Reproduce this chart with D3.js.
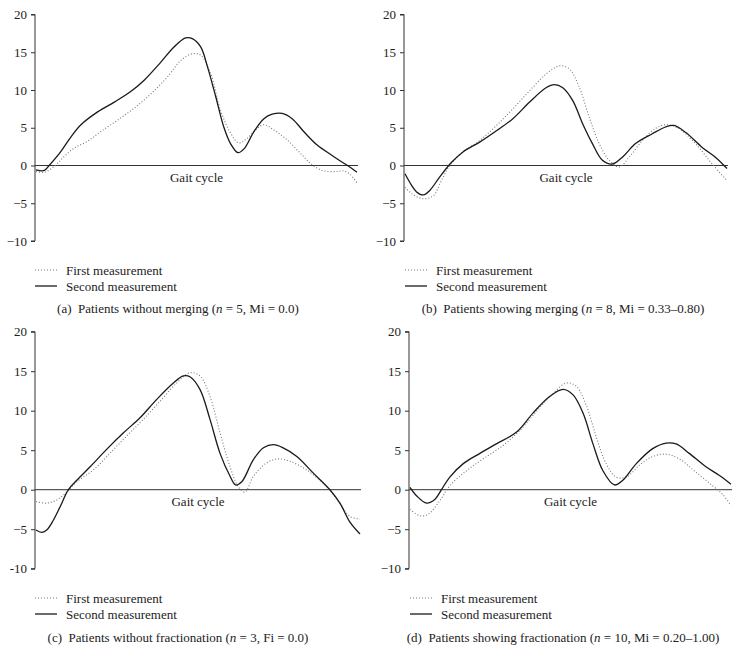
<!DOCTYPE html>
<html><head><meta charset="utf-8">
<script src="https://cdn.jsdelivr.net/npm/d3@7"></script>
<style>body{margin:0;background:#fff}text{font-family:"Liberation Serif","DejaVu Serif",serif;fill:#222}</style>
</head><body>
<svg id="c" width="741" height="663"></svg>
<script>
// ---- data: [gait cycle %, value] ----
const yTicks = [20, 15, 10, 5, 0, -5, -10];
const legendLabels = ["First measurement", "Second measurement"];
const axisLabel = "Gait cycle";

const aFirst = [[0,-0.8],[2.6,-0.9],[5.7,-0.1],[8.8,1.2],[11.9,2.3],[16,3.2],[20.2,4.5],[25.4,6.0],[30.6,7.6],[35.8,9.5],[40.9,11.7],[45.1,13.9],[48.7,14.8],[51.3,14.6],[54.4,12.2],[57.5,7.3],[60.6,4.3],[63.2,3.0],[65.8,3.6],[68.9,4.9],[71,5.4],[74.1,4.7],[78.2,3.4],[82.4,1.6],[86,0.1],[89.6,-0.7],[93.8,-0.8],[95.9,-0.7],[97.9,-1.2],[100,-2.3]];
const aSecond = [[0,-0.57],[2.6,-0.66],[4.1,0],[7.3,1.6],[10.9,3.8],[14,5.4],[19.2,7.1],[24.4,8.4],[29.5,9.8],[33.7,11.3],[38.9,13.7],[43,15.7],[46.6,16.9],[48.7,16.8],[51.3,15.7],[53.4,13.1],[56,9.1],[58.5,5.1],[60.6,2.9],[62.9,1.7],[64.8,2.2],[67.9,4.5],[71,6.2],[73.6,6.8],[76.7,6.9],[79.8,6.2],[83.4,4.5],[87.6,2.7],[92.7,1.2],[95.9,0.3],[97.4,-0.1],[100,-0.9]];

const bFirst = [[0,-2.9],[2.3,-3.8],[5.7,-4.4],[8.8,-4.0],[11.3,-2.0],[13.9,0],[18,1.8],[23.2,3.3],[28.4,5.3],[33.5,7.5],[38.7,9.9],[43.8,12.1],[48,13.2],[51,12.8],[54.1,10.4],[57.2,6.4],[60.3,2.9],[63.4,0.7],[66.5,-0.2],[69.6,1.1],[73.7,3.3],[77.8,4.9],[80.9,5.4],[85,4.9],[90.2,2.9],[95.4,0.2],[100,-2.0]];
const bSecond = [[0,-1.1],[2,-2.6],[3.6,-3.5],[5.7,-3.9],[7.7,-3.3],[10.8,-1.5],[14.4,0.4],[18,1.8],[23.2,3.1],[28.4,4.6],[33.5,6.2],[38.7,8.4],[43.8,10.3],[46.4,10.7],[49,10.3],[52.1,8.6],[55.2,5.5],[58.2,2.9],[61.3,0.7],[64.4,0.2],[67.5,1.1],[71.6,2.9],[76.8,4.2],[80.9,5.1],[83.5,5.3],[87.1,4.4],[92.3,2.4],[96.4,1.1],[100,-0.4]];

const cFirst = [[0,-1.5],[3.3,-1.7],[6.4,-1.3],[9.5,-0.3],[12.6,1.0],[17.7,2.5],[22.8,4.6],[28,6.8],[33.1,8.9],[38.3,11.2],[43.4,13.5],[47.5,14.8],[50.6,14.4],[53.7,11.8],[56.8,7.2],[59.9,2.9],[62.4,0.4],[64.5,-0.3],[67.1,1.7],[71.2,3.4],[74.8,3.9],[78.4,3.6],[83.5,2.5],[89.7,0.4],[93.8,-1.7],[96.9,-3.4],[100,-3.7]];
const cSecond = [[0,-5.1],[1.7,-5.4],[3.3,-5.1],[5.3,-3.9],[7.4,-2.2],[10,0],[12.6,1.2],[16.7,2.9],[21.8,5.1],[27,7.2],[32.1,9.1],[37.2,11.4],[42.4,13.5],[45.5,14.4],[47.5,14.3],[50.6,12.7],[53.7,8.9],[56.8,4.6],[59.9,1.7],[61.6,0.6],[63.5,1.0],[67.1,3.8],[70.2,5.3],[73.3,5.7],[76.3,5.3],[80.5,4.2],[85.6,2.1],[90.7,0],[93.8,-1.7],[96.9,-4.1],[100,-5.6]];

const dFirst = [[0,-2.5],[3.1,-3.3],[5.7,-3.1],[9.3,-1.4],[12.4,0.5],[17.6,2.4],[22.8,3.9],[29,5.6],[34.2,7.5],[39.4,9.9],[44.6,12.2],[48.7,13.5],[51.8,13.1],[54.9,10.7],[58,6.7],[61.1,3.3],[64.2,1.6],[67.4,1.6],[71.5,3.1],[75.6,4.2],[79.8,4.5],[83.9,3.9],[89.1,2.2],[94.3,0.5],[97.4,-0.6],[100,-2.0]];
const dSecond = [[0,0.3],[2.1,-0.8],[5.2,-1.7],[7.8,-1.2],[9.8,0],[12.4,1.6],[16.6,3.3],[21.8,4.6],[26.9,5.8],[33.2,7.3],[38.3,9.7],[43.5,11.8],[47.7,12.7],[50.8,12.0],[53.9,9.7],[57,5.8],[60.1,2.4],[63.7,0.6],[66.3,1.2],[70.5,3.3],[75.6,5.2],[79.8,5.9],[82.9,5.8],[87,4.6],[92.2,2.9],[96.4,1.8],[100,0.7]];

const panels = [
  {first: aFirst, second: aSecond, letter: "(a)", text: "Patients without merging (", n: "5", rest: ", Mi = 0.0)",
   ax: 35, ex: 358, yt: 14.5, yb: 241, legY: 270, capX: 178, capY: 313, legX: 35},
  {first: bFirst, second: bSecond, letter: "(b)", text: "Patients showing merging (", n: "8", rest: ", Mi = 0.33\u20130.80)",
   ax: 404, ex: 728, yt: 14.5, yb: 241, legY: 270, capX: 563, capY: 313, legX: 405},
  {first: cFirst, second: cSecond, letter: "(c)", text: "Patients without fractionation (", n: "3", rest: ", Fi = 0.0)",
   ax: 35, ex: 361, yt: 331.7, yb: 568.7, legY: 598, capX: 178, capY: 642, legX: 35},
  {first: dFirst, second: dSecond, letter: "(d)", text: "Patients showing fractionation (", n: "10", rest: ", Mi = 0.20\u20131.00)",
   ax: 409, ex: 732, yt: 331.7, yb: 568.7, legY: 598, capX: 563, capY: 642, legX: 410}
];

const svg = d3.select("#c");
panels.forEach((p, i) => {
  const g = svg.append("g");
  const x = d3.scaleLinear().domain([0, 100]).range([p.ax + 1, p.ex - 1]);
  const y = d3.scaleLinear().domain([-10, 20]).range([p.yb, p.yt]);
  const yAxis = d3.axisLeft(y).tickValues(yTicks).tickSize(4).tickPadding(4)
    .tickFormat(d => (i === 2 && d === -10) ? "-10" : (d < 0 ? "\u2212" + Math.abs(d) : String(d)));
  const ag = g.append("g").attr("transform", `translate(${p.ax},0)`).call(yAxis);
  ag.select(".domain").attr("stroke", "#333").attr("d", `M-4,${p.yt}H0V${p.yb}H-4`);
  ag.selectAll(".tick line").attr("stroke", "#333");
  ag.selectAll(".tick text").style("font-family", '"Liberation Serif",serif').style("font-size", "13px").attr("fill", "#222");
  // zero line
  g.append("line").attr("x1", p.ax).attr("x2", p.ex).attr("y1", y(0)).attr("y2", y(0))
    .attr("stroke", "#333").attr("stroke-width", 1);
  g.append("text").attr("x", (p.ax + p.ex) / 2).attr("y", y(0) + 16).attr("text-anchor", "middle")
    .style("font-size", "13px").text(axisLabel);
  const line = d3.line().x(d => x(d[0])).y(d => y(d[1])).curve(d3.curveCatmullRom.alpha(0.5));
  g.append("path").datum(p.first).attr("d", line).attr("fill", "none")
    .attr("stroke", "#777").attr("stroke-width", 1.1).attr("stroke-dasharray", "1,2");
  g.append("path").datum(p.second).attr("d", line).attr("fill", "none")
    .attr("stroke", "#1a1a1a").attr("stroke-width", 1.3);
  // legend
  const lg = g.append("g");
  lg.append("line").attr("x1", p.legX).attr("x2", p.legX + 22).attr("y1", p.legY).attr("y2", p.legY)
    .attr("stroke", "#777").attr("stroke-width", 1.1).attr("stroke-dasharray", "1,2");
  lg.append("line").attr("x1", p.legX).attr("x2", p.legX + 22).attr("y1", p.legY + 16).attr("y2", p.legY + 16)
    .attr("stroke", "#1a1a1a").attr("stroke-width", 1.3);
  lg.append("text").attr("x", p.legX + 31).attr("y", p.legY + 4.5).style("font-size", "13px").text(legendLabels[0]);
  lg.append("text").attr("x", p.legX + 31).attr("y", p.legY + 20.5).style("font-size", "13px").text(legendLabels[1]);
  const cap = g.append("text").attr("x", p.capX).attr("y", p.capY).attr("text-anchor", "middle").style("font-size", "13px");
  cap.append("tspan").text(p.letter + "\u2002" + p.text);
  cap.append("tspan").style("font-style", "italic").text("n");
  cap.append("tspan").text(" = " + p.n + p.rest);
});
</script>
</body></html>
